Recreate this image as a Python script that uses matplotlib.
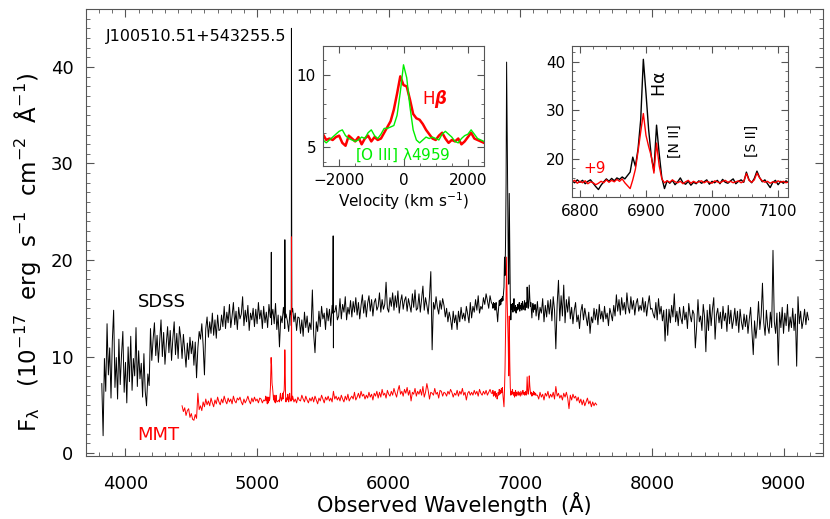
import numpy as np
import matplotlib.pyplot as plt
from matplotlib.ticker import MultipleLocator

# SDSS spectrum, every 10 A from 3820 A (flux in 1e-17 erg/s/cm2/A)
sdss_start, sdss_step = 3820, 10
sdss_flux = [
    7.2, 1.8, 9.8, 6.4, 13.4, 8.1, 10.9, 5.7, 11.6, 14.8,
    6.8, 9.9, 5.6, 11.8, 7.1, 10.2, 12.6, 6.3, 9.4, 5.2,
    11.0, 7.4, 12.1, 6.5, 9.8, 8.0, 13.0, 6.9, 10.6, 7.7,
    9.3, 5.8, 10.3, 6.4, 4.9, 8.2, 7.0, 12.9, 9.6, 11.8,
    13.5, 10.1, 12.2, 9.4, 11.6, 13.8, 10.0, 12.5, 9.2, 11.3,
    13.1, 10.4, 12.7, 9.6, 11.9, 13.6, 10.2, 12.4, 9.8, 13.1,
    11.9, 9.8, 12.3, 10.6, 8.9, 11.4, 9.7, 12.0, 10.3, 11.6,
    9.1, 11.5, 7.8, 10.9, 12.6, 11.8, 13.4, 11.2, 8.1, 12.9,
    14.1, 12.0, 13.6, 12.4, 14.5, 12.2, 13.8, 11.9, 14.3, 12.7,
    12.8, 14.3, 13.1, 15.2, 12.9, 14.6, 13.5, 15.4, 13.0, 14.2,
    15.6, 13.3, 14.7, 12.8, 15.1, 13.9, 14.4, 16.2, 13.2, 14.8,
    13.6, 15.3, 12.7, 14.5, 13.8, 15.0, 13.1, 14.9, 13.4, 15.6,
    13.9, 14.8, 12.9, 15.2, 13.5, 14.6, 13.0, 15.4, 14.1, 13.3,
    14.9, 13.4, 15.5, 12.8, 14.3, 11.0, 14.2, 13.5, 15.1, 12.9,
    14.4, 13.7, 12.6, 14.8, 13.2, 15.0, 13.6, 14.5, 12.7, 14.1,
    14.0, 12.4, 13.8, 12.1, 14.6, 13.0, 14.2, 12.5, 13.5, 12.8,
    16.9, 12.3, 10.4, 13.6, 12.6, 14.7, 13.1, 15.2, 13.9, 14.5,
    12.8, 15.0, 13.7, 14.9, 13.2, 15.3, 10.9, 14.6, 15.3, 13.8,
    14.2, 16.0, 13.9, 15.4, 14.6, 16.2, 13.8, 15.1, 14.4, 15.8,
    14.1, 15.7, 14.6, 16.1, 14.3, 15.6, 13.9, 15.3, 16.4, 14.5,
    15.8, 14.1, 15.5, 16.3, 14.7, 15.9, 14.2, 15.6, 16.0, 14.8,
    15.2, 16.6, 14.6, 15.9, 14.9, 15.4, 17.7, 15.0, 14.6, 16.1,
    15.2, 16.6, 14.8, 16.3, 15.1, 16.8, 14.5, 15.7, 16.4, 14.9,
    15.8, 16.2, 14.7, 16.0, 15.3, 14.6, 16.5, 15.1, 16.9, 14.8,
    15.0, 16.5, 14.6, 15.9, 17.3, 14.8, 16.1, 15.3, 14.4, 16.2,
    18.8, 10.7, 15.6, 14.9, 16.2, 15.1, 14.4, 15.8, 14.9, 16.0,
    15.3, 14.1, 15.0, 13.6, 14.6, 13.9, 12.8, 14.7, 13.5, 14.3,
    12.8, 14.7, 13.6, 15.1, 13.9, 14.5, 13.7, 15.2, 14.4, 13.5,
    15.6, 14.0, 15.2, 14.6, 15.9, 14.8, 16.3, 14.5, 15.2, 14.9,
    16.1, 15.4, 16.5, 15.8, 15.0, 16.3, 15.6, 16.8, 15.2, 16.0,
    16.1, 17.0, 15.8, 16.6, 15.5, 15.2, 14.8, 15.3, 14.6, 15.1,
    14.9, 15.4, 14.5, 15.0, 15.6, 14.7, 15.2, 14.4, 14.9, 15.5,
    15.0, 15.3, 14.7, 15.6, 15.1, 14.8, 15.4, 15.0, 15.5, 14.9,
    14.2, 15.7, 13.8, 15.1, 14.5, 16.0, 13.6, 15.3, 14.1, 15.8,
    14.4, 15.9, 13.7, 16.2, 14.8, 10.8, 15.4, 17.9, 13.7, 16.3,
    14.2, 17.4, 13.5, 15.9, 14.6, 16.2, 13.9, 15.1, 13.4, 14.8,
    15.6, 13.6, 14.3, 12.9, 14.7, 15.4, 13.8, 15.0, 14.1, 13.2,
    14.6, 12.4, 14.1, 13.5, 15.0, 13.8, 14.9, 13.3, 15.4, 13.9,
    14.7, 13.6, 15.2, 13.9, 14.5, 13.2, 15.0, 14.4, 13.7, 15.3,
    14.2, 16.4, 14.7, 15.9, 14.3, 16.1, 14.8, 15.6, 14.4, 16.6,
    15.1, 14.5, 16.2, 14.9, 15.8, 14.3, 15.5, 16.0, 14.7, 15.3,
    14.8, 16.1, 14.6, 15.7, 14.2, 15.4, 16.3, 14.9, 15.0, 14.4,
    14.0, 15.6, 13.8, 16.0, 14.4, 15.2, 13.7, 14.8, 11.6, 14.9,
    12.2, 14.9, 13.5, 15.3, 14.1, 16.5, 13.6, 14.7, 13.2, 15.1,
    14.0, 13.4, 15.2, 13.8, 14.6, 12.9, 15.5, 14.3, 13.6, 14.8,
    14.4, 10.9, 13.1, 15.9, 13.6, 14.2, 12.7, 15.4, 14.1, 10.5,
    14.8, 12.7, 15.4, 13.2, 14.9, 16.1, 11.8, 14.3, 15.0, 13.5,
    14.6, 12.9, 15.2, 13.7, 14.5, 12.6, 15.3, 13.4, 14.8, 12.9,
    13.8, 15.0, 13.2, 14.7, 12.5, 14.9, 13.6, 12.8, 14.4, 13.1,
    14.3, 12.4, 13.9, 15.1, 12.6, 10.2, 13.7, 11.9, 13.3, 15.7,
    12.8, 14.2, 17.6, 13.5, 12.2, 14.8, 13.1, 12.4, 14.6, 13.0,
    21.0, 13.6, 12.4, 14.5, 9.1, 14.6, 13.0, 15.1, 12.4, 14.5,
    13.2, 15.4, 12.6, 14.1, 13.0, 15.0, 12.7, 14.4, 9.0, 16.2,
    13.4, 14.7, 12.9, 13.7, 14.9, 13.3, 14.6, 13.8,
]
# narrow SDSS lines (Hb, [OIII]4959, [OIII]5007, sky 5577)
sdss_line_wave = [5105, 5108, 5111, 5208, 5211, 5214, 5258, 5261, 5264, 5575, 5578, 5581]
sdss_line_flux = [14.0, 20.8, 14.2, 14.1, 22.1, 14.0, 14.3, 44.0, 14.6, 14.5, 22.5, 14.7]

# MMT spectrum, every 10 A from 4430 A
mmt_start, mmt_step = 4430, 10
mmt_flux = [
    4.9, 4.3, 4.7, 3.9, 4.4, 4.6, 3.7, 4.1, 3.5, 3.4,
    4.0, 3.6, 6.2, 4.5, 4.9, 4.4, 5.3, 4.8, 5.6, 5.0,
    5.4, 4.9, 5.7, 5.2, 4.8, 5.5, 5.1, 5.8, 5.3, 5.0,
    5.6, 5.2, 5.9, 5.4, 5.1, 5.7, 5.3, 5.6, 5.1, 5.9,
    5.4, 5.2, 5.7, 5.5, 5.8, 5.3, 5.0, 5.6, 5.2, 5.5,
    5.9, 5.4, 5.1, 5.7, 5.3, 5.8, 5.4, 5.6, 5.2, 5.7,
    5.6, 5.2, 5.5, 5.4, 5.6, 5.3, 5.5, 5.7, 5.4, 5.6,
    5.3, 5.7, 5.2, 5.8, 5.4, 5.0, 5.6, 5.3, 5.9, 5.4,
    5.5, 5.1, 5.7, 5.4, 5.9, 5.3, 5.6, 5.2, 5.8, 5.5,
    5.4, 6.0, 5.6, 5.3, 5.9, 5.5, 5.2, 5.7, 5.4, 5.8,
    5.3, 5.9, 5.5, 5.1, 5.7, 5.4, 6.0, 5.6, 5.2, 5.8,
    5.5, 5.9, 5.4, 5.7, 5.3, 6.4, 5.6, 5.9, 5.5, 5.8,
    5.4, 6.0, 5.6, 5.3, 5.9, 5.5, 6.1, 5.4, 5.7, 5.9,
    5.6, 6.3, 5.5, 5.8, 6.2, 5.7, 6.4, 5.9, 6.1, 5.6,
    6.0, 5.7, 6.3, 5.8, 6.1, 5.5, 6.2, 5.9, 6.4, 5.7,
    6.3, 5.8, 6.6, 6.0, 6.2, 5.7, 6.5, 6.1, 5.9, 6.4,
    6.0, 6.7, 6.2, 5.8, 6.5, 7.0, 6.1, 6.4, 5.9, 6.6,
    6.2, 6.8, 6.0, 6.5, 5.4, 6.3, 6.1, 6.7, 5.9, 6.4,
    6.1, 6.6, 6.0, 6.9, 5.8, 6.3, 7.2, 6.5, 5.6, 6.3,
    6.2, 6.0, 6.7, 6.1, 6.3, 5.7, 6.5, 6.4, 5.9, 6.3,
    6.2, 5.9, 6.4, 6.1, 6.6, 6.3, 5.8, 6.2, 6.0, 6.5,
    5.9, 6.4, 6.1, 6.7, 6.0, 6.3, 5.5, 6.2, 6.4, 6.0,
    6.3, 6.0, 6.5, 6.1, 6.4, 5.9, 6.6, 6.2, 6.0, 6.4,
    6.1, 6.5, 6.0, 6.3, 6.6, 6.2, 5.9, 6.4, 6.1, 6.3,
    6.2, 6.0, 6.4, 6.1, 6.3, 6.0, 6.2, 6.4, 6.1, 6.3,
    6.2, 5.9, 6.4, 6.1, 6.0, 6.3, 5.8, 6.2, 6.0, 5.9,
    6.1, 6.3, 5.9, 6.2, 6.0, 6.4, 6.1, 5.8, 6.2, 6.0,
    6.0, 5.6, 6.3, 5.8, 6.1, 5.5, 6.2, 5.9, 6.4, 5.7,
    6.1, 5.8, 6.3, 5.6, 6.9, 5.9, 6.2, 5.7, 6.0, 5.5,
    6.2, 5.8, 6.3, 5.7, 4.6, 6.0, 5.5, 6.1, 5.7, 5.9,
    5.4, 5.8, 5.2, 5.6, 5.0, 5.5, 4.9, 5.3, 5.7, 5.1,
    5.4, 4.8, 5.3, 4.9, 5.2, 5.0,
]
mmt_line_wave = [5258, 5261, 5264]
mmt_line_flux = [5.6, 22.4, 5.5]

# Hb / [OIII]4959 profiles (MMT), every 100 km/s from -2500
vel_start, vel_step = -2500, 100
hb_flux = [
    5.9, 5.5, 5.6, 5.5, 5.7, 5.8, 5.3, 5.1, 5.8, 5.6, 5.4, 5.7, 5.2,
    5.6, 5.8, 5.4, 5.7, 5.5, 5.6, 6.0, 6.4, 6.8, 7.6, 8.7, 9.9,
    9.3,
    9.2, 8.3, 7.3, 7.0, 6.9, 6.6, 6.2, 5.9, 5.6, 5.5, 5.8, 6.0, 5.6,
    5.3, 5.5, 5.4, 5.6, 5.2, 5.4, 5.7, 6.0, 5.6, 5.5, 5.4, 5.3,
]
o3_flux = [
    5.5, 5.3, 5.5, 5.7, 5.9, 6.1, 6.2, 5.8, 5.6, 5.5, 5.4, 5.5, 5.7,
    5.6, 6.0, 6.2, 5.8, 5.6, 5.9, 6.3, 6.3, 6.4, 6.5, 7.2, 8.8,
    10.7,
    9.8, 7.8, 6.2, 5.5, 5.3, 5.5, 5.7, 5.6, 5.7, 5.6, 5.5, 5.9, 6.1,
    5.9, 5.7, 5.4, 5.3, 5.6, 5.8, 5.9, 6.2, 5.9, 5.6, 5.5, 5.4,
]

# Ha region, every 4 A from 6788 A: SDSS and MMT (+9)
ha_start, ha_step = 6788, 4
ha_sdss = [
    15.4, 15.0, 15.6, 15.1, 15.5, 14.8, 15.3, 15.6, 14.9, 14.2,
    13.6, 14.5, 15.2, 15.8, 15.3, 15.9, 15.4, 16.0, 15.7, 16.2,
    15.8, 16.5, 17.2, 20.3, 18.4, 22.0, 28.0, 40.5, 33.5, 26.0,
    20.5, 17.5, 26.9, 21.0, 16.0, 13.8, 15.4, 14.9, 15.5, 14.6,
    15.2, 16.0, 15.0, 14.7, 15.3, 14.5, 15.1, 14.8, 15.4, 14.9,
    15.2, 15.6, 14.7, 15.3, 15.0, 15.5, 14.8, 15.7, 15.1, 14.9,
    15.4, 15.8, 14.8, 15.3, 15.6, 15.1, 17.2, 15.6, 15.0, 15.9,
    17.4, 16.1, 15.2, 15.6, 14.8, 14.0, 15.1, 15.5, 14.6, 15.3,
    14.9, 15.4, 15.0,
]
ha_mmt9 = [
    15.2, 15.5, 14.9, 15.3, 15.0, 15.4, 14.8, 15.2, 15.0, 14.6,
    14.9, 15.3, 15.0, 15.6, 15.1, 15.5, 15.2, 15.7, 15.3, 15.8,
    15.0, 14.4, 13.8, 15.6, 17.8, 21.5, 25.5, 29.3, 24.8, 22.5,
    20.5, 17.0, 23.2, 18.5, 15.8, 15.0, 15.4, 15.1, 15.6, 15.2,
    15.0, 15.3, 14.8, 15.2, 15.5, 14.9, 15.3, 15.0, 15.2, 15.4,
    15.0, 15.3, 15.1, 14.9, 15.4, 15.2, 15.0, 15.3, 15.5, 15.1,
    15.3, 15.0, 15.2, 15.4, 15.0, 15.3, 16.9, 15.5, 15.1, 15.6,
    17.0, 16.0, 15.4, 15.1, 15.3, 14.9, 15.2, 15.0, 15.4, 15.1,
    15.3, 15.0, 15.2,
]
mmt_offset = 9

z = 0.0508
c_kms = 299792.458
hb_rest, o3_rest = 4861.33, 4958.91

# wavelength grids
sdss_w = sdss_start + sdss_step * np.arange(len(sdss_flux))
mmt_w = mmt_start + mmt_step * np.arange(len(mmt_flux))
vel = vel_start + vel_step * np.arange(len(hb_flux))
ha_w = ha_start + ha_step * np.arange(len(ha_sdss))
hb_w = hb_rest * (1 + z) * (1 + vel / c_kms)
o3_w = o3_rest * (1 + z) * (1 + vel / c_kms)

# SDSS: continuum + Ha region + narrow lines
keep = (sdss_w < ha_w[0]) | (sdss_w > ha_w[-1])
sw = np.concatenate([sdss_w[keep], ha_w, sdss_line_wave])
sf = np.concatenate([np.array(sdss_flux)[keep], ha_sdss, sdss_line_flux])
o = np.argsort(sw)
sw, sf = sw[o], sf[o]

# MMT: continuum + Hb/[OIII] profiles + Ha region + 5007
keep = ((mmt_w < hb_w[0]) | (mmt_w > o3_w[-1])) & ((mmt_w < ha_w[0]) | (mmt_w > ha_w[-1]))
mw = np.concatenate([mmt_w[keep], hb_w, o3_w, ha_w, mmt_line_wave])
mf = np.concatenate([np.array(mmt_flux)[keep], hb_flux, o3_flux,
                     np.array(ha_mmt9) - mmt_offset, mmt_line_flux])
o = np.argsort(mw)
mw, mf = mw[o], mf[o]

plt.rcParams['font.family'] = ['DejaVu Sans']
plt.rcParams['mathtext.default'] = 'regular'

fig = plt.figure(figsize=(8.3, 5.19), dpi=100)
ax = fig.add_axes([86 / 830, 63 / 519, 737 / 830, 447 / 519])

ax.plot(sw, sf, color='black', lw=0.7)
ax.plot(mw, mf, color='red', lw=0.7)
ax.set_xlim(3700, 9300)
ax.set_ylim(-0.3, 46)
ax.xaxis.set_major_locator(MultipleLocator(1000))
ax.xaxis.set_minor_locator(MultipleLocator(100))
ax.yaxis.set_major_locator(MultipleLocator(10))
ax.yaxis.set_minor_locator(MultipleLocator(1))
ax.tick_params(which='both', direction='in', top=True, right=True, color='#555555')
ax.tick_params(which='major', length=6, labelsize=13)
ax.tick_params(axis='x', which='major', pad=14)
ax.tick_params(axis='y', which='major', pad=9)
ax.tick_params(which='minor', length=3)
for s in ax.spines.values():
    s.set_color('#555555')
ax.set_xlabel('Observed Wavelength  (Å)', fontsize=15, labelpad=-1)
ax.set_ylabel(r'F$_\lambda$   (10$^{-17}$  erg  s$^{-1}$  cm$^{-2}$  Å$^{-1}$)',
              fontsize=16.5)
ax.yaxis.set_label_coords(-0.058, 0.456)

ax.text(3848, 43.1, 'J100510.51+543255.5', fontsize=11.5, va='center', ha='left')
ax.text(4091, 15.6, 'SDSS', fontsize=13, va='center', ha='left')
ax.text(4091, 1.9, 'MMT', fontsize=13, va='center', ha='left', color='red')

# Hb inset
ax1 = fig.add_axes([323 / 830, 353 / 519, 161 / 830, 120 / 519])
ax1.plot(vel, hb_flux, color='red', lw=1.8)
ax1.plot(vel, o3_flux, color='#00ee00', lw=1.0)
ax1.set_xlim(-2500, 2500)
ax1.set_ylim(3.7, 12)
ax1.xaxis.set_major_locator(MultipleLocator(2000))
ax1.xaxis.set_minor_locator(MultipleLocator(500))
ax1.yaxis.set_major_locator(MultipleLocator(5))
ax1.yaxis.set_minor_locator(MultipleLocator(1))
ax1.tick_params(which='both', direction='in', top=True, right=True, color='#555555')
ax1.tick_params(which='major', length=5, labelsize=11, pad=5)
ax1.tick_params(which='minor', length=2.5)
ax1.set_xlabel(r'Velocity (km s$^{-1}$)', fontsize=11, labelpad=2)
ax1.text(969, 8.34, r'H$\boldsymbol{\beta}$', color='red', fontsize=12, ha='center', va='center')
ax1.text(-16, 4.47, r'[O III] $\lambda$4959', color='#00ee00', fontsize=11, ha='center', va='center')

# Ha inset
ax2 = fig.add_axes([572 / 830, 322 / 519, 216 / 830, 151 / 519])
ax2.plot(ha_w, ha_sdss, color='black', lw=1.0)
ax2.plot(ha_w, ha_mmt9, color='red', lw=1.0)
ax2.set_xlim(6788, 7115)
ax2.set_ylim(12.06, 43.25)
ax2.xaxis.set_major_locator(MultipleLocator(100))
ax2.xaxis.set_minor_locator(MultipleLocator(20))
ax2.yaxis.set_major_locator(MultipleLocator(10))
ax2.yaxis.set_minor_locator(MultipleLocator(2))
ax2.tick_params(which='both', direction='in', top=True, right=True, color='#555555')
ax2.tick_params(which='major', length=5, labelsize=11, pad=5)
ax2.tick_params(which='minor', length=2.5)
ax2.text(6921, 35.4, r'H$\alpha$', fontsize=12.5, rotation=90, ha='center', va='center')
ax2.text(6944, 23.6, '[N II]', fontsize=10, rotation=90, ha='center', va='center')
ax2.text(7060, 23.6, '[S II]', fontsize=10, rotation=90, ha='center', va='center')
ax2.text(6823, 18.0, '+9', fontsize=11, color='red', ha='center', va='center')

for a in (ax1, ax2):
    for s in a.spines.values():
        s.set_color('#555555')

fig.savefig('out.png', dpi=100)
